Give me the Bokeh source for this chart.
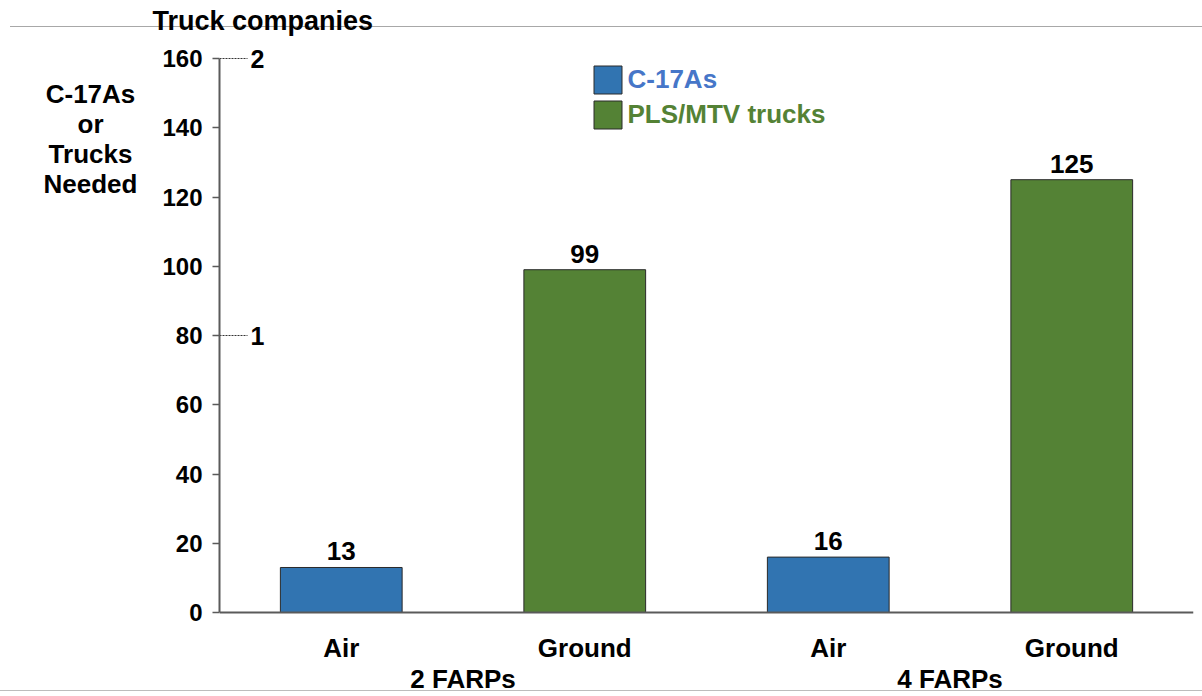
from bokeh.plotting import figure
from bokeh.models import (FactorRange, Range1d, FixedTicker, Legend, LegendItem,
                          Label, ColumnDataSource, CategoricalAxis)
from bokeh.core.properties import value
from bokeh.embed import file_html
from bokeh.resources import INLINE

# ---------------- data ----------------
groups = ["2 FARPs", "4 FARPs"]
modes = ["Air", "Ground"]
air_values = [13, 16]          # C-17As needed
ground_values = [99, 125]      # PLS/MTV trucks needed
y_ticks = [0, 20, 40, 60, 80, 100, 120, 140, 160]
company_ticks = [1, 2]         # truck companies (secondary scale)
trucks_per_company = 80
series_names = ["C-17As", "PLS/MTV trucks"]
y_label_lines = ["C-17As", "or", "Trucks", "Needed"]
title_text = "Truck companies"

FONT = "Liberation Sans"
BLUE = "#3174B1"
GREEN = "#548235"
BLUE_TEXT = "#4676C8"
GREEN_TEXT = "#548235"
AXIS = "#5a5a5a"

W, H = 1202, 696
FRAME_L, FRAME_R, FRAME_T = 219, 1193, 36
ZERO_Y = 612
PX_PER_UNIT = (ZERO_Y - 58) / 160.0

factors = [(g, m) for g in groups for m in modes]

p = figure(width=W, height=H,
           x_range=FactorRange(*factors, range_padding=0, group_padding=0, factor_padding=0),
           y_range=Range1d(-(H - ZERO_Y) / PX_PER_UNIT, (ZERO_Y - FRAME_T) / PX_PER_UNIT),
           output_backend="svg", toolbar_location=None,
           min_border_left=FRAME_L, min_border_right=W - FRAME_R,
           min_border_top=FRAME_T, min_border_bottom=0)
p.outline_line_color = None
p.xgrid.visible = False
p.ygrid.visible = False
p.background_fill_alpha = 0
p.border_fill_alpha = 0
p.styles = {
    "background-color": "white",
    "background-image": "linear-gradient(#a8a8a8, #a8a8a8), linear-gradient(#bcbcbc, #bcbcbc)",
    "background-size": "1192px 1px, 1202px 1px",
    "background-position": "10px 26px, 0px 690px",
    "background-repeat": "no-repeat",
}

# bars
air_src = ColumnDataSource(dict(x=[(g, "Air") for g in groups], top=air_values))
gnd_src = ColumnDataSource(dict(x=[(g, "Ground") for g in groups], top=ground_values))
r_air = p.vbar(x="x", top="top", width=0.5, source=air_src,
               fill_color=BLUE, line_color="#2a2a2a", line_width=1)
r_gnd = p.vbar(x="x", top="top", width=0.5, source=gnd_src,
               fill_color=GREEN, line_color="#2a2a2a", line_width=1)

# value labels
all_x = [(g, "Air") for g in groups] + [(g, "Ground") for g in groups]
all_v = air_values + ground_values
lab_src = ColumnDataSource(dict(x=all_x, y=all_v, t=[str(v) for v in all_v]))
p.text(x="x", y="y", text="t", source=lab_src, text_align="center",
       text_baseline="bottom", y_offset=-7,
       text_font=value(FONT), text_font_style="bold", text_font_size="26px",
       text_color="black")

# y axis
yax = p.yaxis[0]
yax.ticker = FixedTicker(ticks=y_ticks)
yax.bounds = (0, 160)
yax.minor_tick_line_color = None
yax.major_tick_out = 7
yax.major_tick_in = 0
yax.major_tick_line_color = AXIS
yax.major_tick_line_width = 1.5
yax.axis_line_color = AXIS
yax.axis_line_width = 2
yax.major_label_standoff = 10
yax.major_label_text_font = FONT
yax.major_label_text_font_style = "bold"
yax.major_label_text_font_size = "24px"
yax.major_label_text_color = "black"

# x axis (mode labels), fixed at y = 0
xax = p.xaxis[0]
xax.fixed_location = 0
xax.axis_line_color = AXIS
xax.axis_line_width = 2
xax.major_tick_out = 0
xax.major_tick_in = 0
xax.major_tick_line_color = None
xax.separator_line_alpha = 0
xax.major_label_standoff = 20
xax.major_label_text_font = FONT
xax.major_label_text_font_style = "bold"
xax.major_label_text_font_size = "26px"
xax.major_label_text_color = "black"
xax.group_text_alpha = 0

# group axis (FARP labels)
p.extra_x_ranges = {"grp": FactorRange(*groups, range_padding=0, factor_padding=0)}
gax = CategoricalAxis(x_range_name="grp", fixed_location=0)
gax.axis_line_color = None
gax.major_tick_line_color = None
gax.major_tick_out = 0
gax.major_tick_in = 0
gax.major_label_standoff = 51
gax.major_label_text_font = FONT
gax.major_label_text_font_style = "bold"
gax.major_label_text_font_size = "26px"
gax.major_label_text_color = "black"
p.add_layout(gax, "below")

# secondary (truck companies) ticks
comp_y = [c * trucks_per_company for c in company_ticks]
p.segment(x0=[0] * len(comp_y), x1=[0.115] * len(comp_y), y0=comp_y, y1=comp_y,
          line_color="#333333", line_width=1, line_dash="2 1")
for c, yv in zip(company_ticks, comp_y):
    p.add_layout(Label(x=31, x_units="screen", y=yv, y_units="data", text=str(c),
                       text_baseline="middle", text_align="left",
                       text_font=FONT, text_font_style="bold",
                       text_font_size="25px", text_color="black"))

# title (above panel)
p.title.text = title_text
p.title.align = "left"
p.title.offset = 152 - FRAME_L
p.title.standoff = 2
p.title.text_font = FONT
p.title.text_font_style = "bold"
p.title.text_font_size = "27px"
p.title.text_color = "black"

# y label: one multi-line label in the left panel, canvas coordinates
p.add_layout(Label(x=90, y=138.5, x_units="canvas", y_units="canvas",
                   text="\n".join(y_label_lines), text_baseline="middle", text_align="center",
                   text_line_height=1.0,
                   text_font=FONT, text_font_style="bold",
                   text_font_size="26px", text_color="black"), "left")

# legends (one per series so each text gets its own colour)
for r, name, col, top_px in [(r_air, series_names[0], BLUE_TEXT, 65),
                             (r_gnd, series_names[1], GREEN_TEXT, 100)]:
    lg = Legend(items=[LegendItem(label=name, renderers=[r])],
                location=(593 - 3.5 - FRAME_L, H - (top_px + 28 + 3.5)),
                glyph_width=35, glyph_height=35, label_standoff=3,
                padding=0, margin=0, spacing=0,
                border_line_alpha=0, background_fill_alpha=0,
                label_text_font=FONT, label_text_font_style="bold",
                label_text_font_size="26px", label_text_color=col)
    p.add_layout(lg, "center")

open("out.html", "w").write(file_html(p, INLINE))
